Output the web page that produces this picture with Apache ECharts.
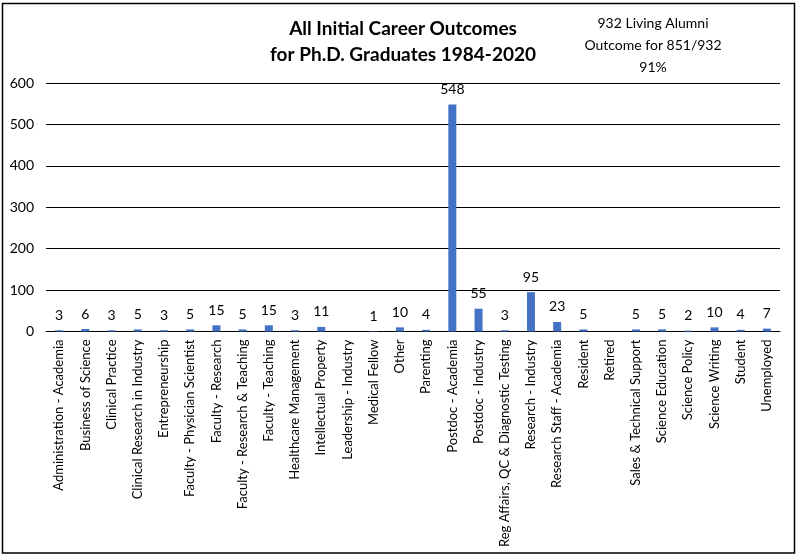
<!DOCTYPE html>
<html><head><meta charset="utf-8">
<script src="https://cdn.jsdelivr.net/npm/echarts@6/dist/echarts.min.js"></script>
<style>html,body{margin:0;padding:0;background:#fff}#c{width:801px;height:557px}</style>
</head><body><div id="c"></div>
<script>
const categories = ["Administration - Academia","Business of Science","Clinical Practice","Clinical Research in Industry","Entrepreneurship","Faculty - Physician Scientist","Faculty - Research","Faculty - Research & Teaching","Faculty - Teaching","Healthcare Management","Intellectual Property","Leadership - Industry","Medical Fellow","Other","Parenting","Postdoc - Academia","Postdoc - Industry","Reg Affairs, QC & Diagnostic Testing","Research - Industry","Research Staff - Academia","Resident","Retired","Sales & Technical Support","Science Education","Science Policy","Science Writing","Student","Unemployed"];
const counts = [3,6,3,5,3,5,15,5,15,3,11,null,1,10,4,548,55,3,95,23,5,null,5,5,2,10,4,7];
const titleLines = ["All Initial Career Outcomes","for Ph.D. Graduates 1984-2020"];
const noteLines = ["932 Living Alumni","Outcome for 851/932","91%"];
const yTicks = {min:0,max:600,interval:100};
const FONT = "Lato, 'Open Sans', sans-serif";
const chart = echarts.init(document.getElementById('c'), null, {renderer:'canvas'});
chart.setOption({
  animation:false,
  backgroundColor:'#fff',
  title:{text:titleLines.join('\n'),left:398,top:11,textAlign:'center',
    textStyle:{fontFamily:FONT,fontWeight:'bold',fontSize:19,lineHeight:26,color:'#000'}},
  graphic:[
    {type:'rect',shape:{x:2.5,y:3.5,width:792,height:549.5},style:{fill:null,stroke:'#000',lineWidth:1.5},silent:true},
    {type:'text',x:653,y:12,style:{text:noteLines.join('\n'),align:'center',verticalAlign:'top',fontFamily:FONT,fontSize:14,lineHeight:22,fill:'#000'}}
  ],
  grid:{left:46,right:21,top:83,bottom:225.5,containLabel:false},
  xAxis:{type:'category',data:categories,
    axisLine:{lineStyle:{color:'#000',width:1}},axisTick:{show:false},
    axisLabel:{rotate:90,interval:0,margin:8,fontFamily:FONT,fontSize:13,color:'#000'}},
  yAxis:{type:'value',min:yTicks.min,max:yTicks.max,interval:yTicks.interval,
    axisLine:{show:false},axisTick:{show:false},
    splitLine:{lineStyle:{color:'#000',width:1}},
    axisLabel:{margin:12,fontFamily:FONT,fontSize:14,color:'#000'}},
  series:[{type:'bar',data:counts,barWidth:8,itemStyle:{color:'#4472C4'},
    label:{show:true,position:'top',distance:8,fontFamily:FONT,fontSize:14,color:'#000'}}]
});
</script></body></html>
